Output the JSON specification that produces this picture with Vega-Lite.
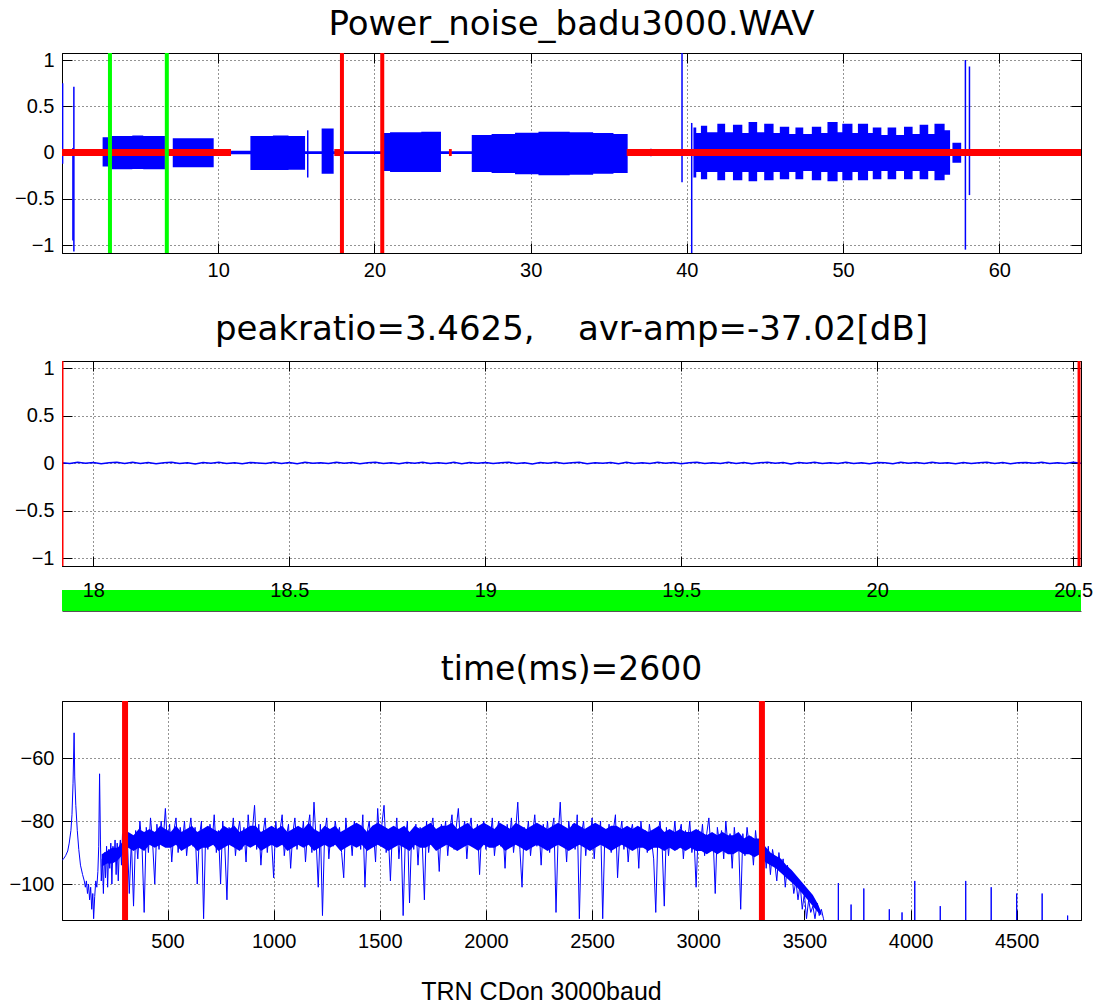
{
  "$schema": "https://vega.github.io/schema/vega-lite/v6.json",
  "background": "white",
  "padding": {"left": 8, "top": 7, "right": 0, "bottom": 0},
  "spacing": 11,
  "config": {
    "view": {"stroke": "#000", "strokeWidth": 1},
    "axis": {
      "labelFont": "Liberation Sans", "labelFontSize": 20, "labelColor": "#000",
      "domainColor": "#000", "domainWidth": 1, "tickColor": "#000", "tickSize": -10, "tickWidth": 1,
      "gridColor": "#000", "gridDash": [1, 3], "gridWidth": 1, "gridOpacity": 0.85,
      "labelFlush": false, "labelOverlap": false, "labelBound": false, "labelPadding": 20,
      "labelExpr": "format(datum.value, '~g')"
    },
    "axisY": {"labelPadding": 18},
    "title": {"font": "DejaVu Sans", "fontSize": 33, "fontWeight": "normal", "color": "#000", "anchor": "middle"}
  },
  "datasets": {
    "wave": [
      {"t": 0, "hi": 0.012, "lo": -0.012},
      {"t": 2.6, "hi": 0.164, "lo": -0.15},
      {"t": 3.2, "hi": 0.178, "lo": -0.182},
      {"t": 4.5, "hi": 0.183, "lo": -0.178},
      {"t": 5.2, "hi": 0.178, "lo": -0.182},
      {"t": 6.59, "hi": 0.012, "lo": -0.012},
      {"t": 7.09, "hi": 0.154, "lo": -0.16},
      {"t": 9.71, "hi": 0.012, "lo": -0.012},
      {"t": 10.82, "hi": 0.018, "lo": -0.018},
      {"t": 12.06, "hi": 0.178, "lo": -0.19},
      {"t": 13.5, "hi": 0.185, "lo": -0.19},
      {"t": 14.5, "hi": 0.178, "lo": -0.185},
      {"t": 15.56, "hi": 0.015, "lo": -0.015},
      {"t": 16.62, "hi": 0.26, "lo": -0.23},
      {"t": 17.39, "hi": 0.015, "lo": -0.015},
      {"t": 20.59, "hi": 0.21, "lo": -0.2},
      {"t": 21.0, "hi": 0.22, "lo": -0.21},
      {"t": 23.0, "hi": 0.225, "lo": -0.21},
      {"t": 24.26, "hi": 0.015, "lo": -0.015},
      {"t": 26.23, "hi": 0.19, "lo": -0.21},
      {"t": 27.5, "hi": 0.2, "lo": -0.22},
      {"t": 29.0, "hi": 0.215, "lo": -0.235},
      {"t": 30.5, "hi": 0.225, "lo": -0.245},
      {"t": 32.5, "hi": 0.22, "lo": -0.24},
      {"t": 34.0, "hi": 0.21, "lo": -0.23},
      {"t": 35.3, "hi": 0.2, "lo": -0.22},
      {"t": 36.21, "hi": 0.012, "lo": -0.012},
      {"t": 40.42, "hi": 0.27, "lo": -0.27},
      {"t": 40.6, "hi": 0.21, "lo": -0.21},
      {"t": 40.9, "hi": 0.29, "lo": -0.29},
      {"t": 41.3, "hi": 0.22, "lo": -0.21},
      {"t": 41.95, "hi": 0.31, "lo": -0.3},
      {"t": 42.45, "hi": 0.22, "lo": -0.21},
      {"t": 42.95, "hi": 0.3, "lo": -0.3},
      {"t": 43.55, "hi": 0.21, "lo": -0.21},
      {"t": 43.95, "hi": 0.33, "lo": -0.31},
      {"t": 44.5, "hi": 0.22, "lo": -0.21},
      {"t": 44.95, "hi": 0.31, "lo": -0.3},
      {"t": 45.55, "hi": 0.21, "lo": -0.21},
      {"t": 45.95, "hi": 0.28, "lo": -0.29},
      {"t": 46.55, "hi": 0.2, "lo": -0.21},
      {"t": 46.95, "hi": 0.27, "lo": -0.29},
      {"t": 47.45, "hi": 0.2, "lo": -0.2},
      {"t": 48.0, "hi": 0.28, "lo": -0.3},
      {"t": 48.6, "hi": 0.21, "lo": -0.21},
      {"t": 49.0, "hi": 0.33, "lo": -0.31},
      {"t": 49.65, "hi": 0.22, "lo": -0.21},
      {"t": 49.95, "hi": 0.31, "lo": -0.3},
      {"t": 50.6, "hi": 0.21, "lo": -0.21},
      {"t": 50.95, "hi": 0.31, "lo": -0.3},
      {"t": 51.6, "hi": 0.21, "lo": -0.2},
      {"t": 51.9, "hi": 0.27, "lo": -0.29},
      {"t": 52.45, "hi": 0.19, "lo": -0.2},
      {"t": 52.85, "hi": 0.27, "lo": -0.29},
      {"t": 53.4, "hi": 0.19, "lo": -0.2},
      {"t": 53.9, "hi": 0.28, "lo": -0.29},
      {"t": 54.45, "hi": 0.2, "lo": -0.2},
      {"t": 54.9, "hi": 0.3, "lo": -0.29},
      {"t": 55.45, "hi": 0.2, "lo": -0.2},
      {"t": 55.85, "hi": 0.31, "lo": -0.3},
      {"t": 56.5, "hi": 0.24, "lo": -0.24},
      {"t": 56.85, "hi": 0.012, "lo": -0.012},
      {"t": 57.0, "hi": 0.105, "lo": -0.11},
      {"t": 57.56, "hi": 0.012, "lo": -0.012},
      {"t": 65.23, "hi": 0.012, "lo": -0.012}
    ],
    "spikes": [
      {"t": 0.04, "top": 0.75, "bot": -0.12},
      {"t": 0.7, "top": 0.05, "bot": -0.95},
      {"t": 0.76, "top": 0.71, "bot": -1.07},
      {"t": 15.73, "top": 0.24, "bot": -0.27},
      {"t": 37.7, "top": 0.04, "bot": -0.04},
      {"t": 38.8, "top": 0.03, "bot": -0.03},
      {"t": 39.69, "top": 1.076, "bot": -0.32},
      {"t": 40.31, "top": 0.32, "bot": -1.086},
      {"t": 57.83, "top": 1.0, "bot": -1.05},
      {"t": 58.09, "top": 0.93, "bot": -0.46}
    ],
    "quiet": [
      {"t0": 0, "t1": 10.82},
      {"t0": 17.43, "t1": 17.97},
      {"t0": 24.77, "t1": 24.95},
      {"t0": 36.15, "t1": 65.23}
    ],
    "marks1": [
      {"t": 3.07, "kind": "window"},
      {"t": 6.71, "kind": "window"},
      {"t": 17.92, "kind": "segment"},
      {"t": 20.5, "kind": "segment"}
    ],
    "noise": [
      {"t": 17.92, "v": 0.004}, {"t": 17.94, "v": -0.006}, {"t": 17.96, "v": 0.008}, {"t": 17.98, "v": -0.003}, {"t": 18.0, "v": 0.006},
      {"t": 18.02, "v": -0.008}, {"t": 18.04, "v": 0.002}, {"t": 18.06, "v": 0.007}, {"t": 18.08, "v": -0.005}, {"t": 18.1, "v": 0.009},
      {"t": 18.12, "v": -0.004}, {"t": 18.14, "v": 0.005}, {"t": 18.16, "v": -0.007}, {"t": 18.18, "v": 0.003}, {"t": 18.2, "v": 0.008},
      {"t": 18.22, "v": -0.006}, {"t": 18.24, "v": 0.004}, {"t": 18.26, "v": -0.009}, {"t": 18.28, "v": 0.006}, {"t": 18.3, "v": -0.002},
      {"t": 18.32, "v": 0.007}, {"t": 18.34, "v": -0.005}, {"t": 18.36, "v": 0.003}, {"t": 18.38, "v": -0.008}, {"t": 18.4, "v": 0.006},
      {"t": 18.42, "v": 0.001}, {"t": 18.44, "v": -0.006}, {"t": 18.46, "v": 0.008}, {"t": 18.48, "v": -0.004}, {"t": 18.5, "v": 0.005},
      {"t": 18.52, "v": -0.007}, {"t": 18.54, "v": 0.009}, {"t": 18.56, "v": -0.003}, {"t": 18.58, "v": 0.004}, {"t": 18.6, "v": -0.006},
      {"t": 18.62, "v": 0.007}, {"t": 18.64, "v": -0.002}, {"t": 18.66, "v": 0.006}, {"t": 18.68, "v": -0.008}, {"t": 18.7, "v": 0.003},
      {"t": 18.72, "v": 0.008}, {"t": 18.74, "v": -0.005}, {"t": 18.76, "v": 0.004}, {"t": 18.78, "v": -0.007}, {"t": 18.8, "v": 0.006},
      {"t": 18.82, "v": -0.003}, {"t": 18.84, "v": 0.009}, {"t": 18.86, "v": -0.006}, {"t": 18.88, "v": 0.002}, {"t": 18.9, "v": -0.004},
      {"t": 18.92, "v": 0.007}, {"t": 18.94, "v": -0.008}, {"t": 18.96, "v": 0.005}, {"t": 18.98, "v": -0.002}, {"t": 19.0, "v": 0.006},
      {"t": 19.02, "v": -0.006}, {"t": 19.04, "v": 0.003}, {"t": 19.06, "v": 0.008}, {"t": 19.08, "v": -0.005}, {"t": 19.1, "v": 0.004},
      {"t": 19.12, "v": -0.009}, {"t": 19.14, "v": 0.006}, {"t": 19.16, "v": -0.003}, {"t": 19.18, "v": 0.007}, {"t": 19.2, "v": -0.005},
      {"t": 19.22, "v": 0.002}, {"t": 19.24, "v": 0.008}, {"t": 19.26, "v": -0.007}, {"t": 19.28, "v": 0.004}, {"t": 19.3, "v": -0.003},
      {"t": 19.32, "v": 0.006}, {"t": 19.34, "v": -0.008}, {"t": 19.36, "v": 0.009}, {"t": 19.38, "v": -0.004}, {"t": 19.4, "v": 0.003},
      {"t": 19.42, "v": -0.006}, {"t": 19.44, "v": 0.007}, {"t": 19.46, "v": -0.002}, {"t": 19.48, "v": 0.005}, {"t": 19.5, "v": -0.007},
      {"t": 19.52, "v": 0.004}, {"t": 19.54, "v": 0.008}, {"t": 19.56, "v": -0.006}, {"t": 19.58, "v": 0.003}, {"t": 19.6, "v": -0.005},
      {"t": 19.62, "v": 0.009}, {"t": 19.64, "v": -0.004}, {"t": 19.66, "v": 0.006}, {"t": 19.68, "v": -0.008}, {"t": 19.7, "v": 0.002},
      {"t": 19.72, "v": 0.007}, {"t": 19.74, "v": -0.003}, {"t": 19.76, "v": 0.005}, {"t": 19.78, "v": -0.009}, {"t": 19.8, "v": 0.006},
      {"t": 19.82, "v": -0.002}, {"t": 19.84, "v": 0.008}, {"t": 19.86, "v": -0.006}, {"t": 19.88, "v": 0.003}, {"t": 19.9, "v": -0.005},
      {"t": 19.92, "v": 0.007}, {"t": 19.94, "v": -0.004}, {"t": 19.96, "v": 0.002}, {"t": 19.98, "v": -0.008}, {"t": 20.0, "v": 0.006},
      {"t": 20.02, "v": 0.004}, {"t": 20.04, "v": -0.007}, {"t": 20.06, "v": 0.009}, {"t": 20.08, "v": -0.003}, {"t": 20.1, "v": 0.005},
      {"t": 20.12, "v": -0.006}, {"t": 20.14, "v": 0.007}, {"t": 20.16, "v": -0.002}, {"t": 20.18, "v": 0.004}, {"t": 20.2, "v": -0.008},
      {"t": 20.22, "v": 0.006}, {"t": 20.24, "v": -0.005}, {"t": 20.26, "v": 0.003}, {"t": 20.28, "v": 0.008}, {"t": 20.3, "v": -0.004},
      {"t": 20.32, "v": 0.005}, {"t": 20.34, "v": -0.007}, {"t": 20.36, "v": 0.002}, {"t": 20.38, "v": 0.006}, {"t": 20.4, "v": -0.003},
      {"t": 20.42, "v": 0.008}, {"t": 20.44, "v": -0.006}, {"t": 20.46, "v": 0.004}, {"t": 20.48, "v": -0.005}, {"t": 20.5, "v": 0.007},
      {"t": 20.52, "v": -0.002}
    ],
    "marks2": [{"t": 17.92}, {"t": 20.515}],
    "span": [{"t0": 17.92, "t1": 20.52}],
    "marks3": [{"f": 300}, {"f": 3300}],
    "core": [
      {"f": 190, "lo": -94.5, "hi": -90.5}, {"f": 215, "lo": -93.5, "hi": -89.5}, {"f": 240, "lo": -93.5, "hi": -88.5}, {"f": 265, "lo": -92.5, "hi": -88.5},
      {"f": 290, "lo": -90.5, "hi": -86.5}, {"f": 315, "lo": -88.5, "hi": -83.5}, {"f": 340, "lo": -89.5, "hi": -84.5}, {"f": 365, "lo": -88.5, "hi": -82.5},
      {"f": 390, "lo": -89.5, "hi": -83.5}, {"f": 415, "lo": -87.5, "hi": -82.5}, {"f": 440, "lo": -88.5, "hi": -83.5}, {"f": 465, "lo": -87.5, "hi": -81.5},
      {"f": 490, "lo": -88.5, "hi": -82.5}, {"f": 515, "lo": -88.5, "hi": -83.5}, {"f": 540, "lo": -87.5, "hi": -81.5}, {"f": 565, "lo": -89.5, "hi": -83.5},
      {"f": 590, "lo": -88.5, "hi": -82.5}, {"f": 615, "lo": -87.5, "hi": -81.5}, {"f": 640, "lo": -89.5, "hi": -83.5}, {"f": 665, "lo": -88.5, "hi": -82.5},
      {"f": 690, "lo": -88.5, "hi": -81.5}, {"f": 715, "lo": -87.5, "hi": -82.5}, {"f": 740, "lo": -89.5, "hi": -83.5}, {"f": 765, "lo": -88.5, "hi": -81.5},
      {"f": 790, "lo": -87.5, "hi": -82.5}, {"f": 815, "lo": -88.5, "hi": -81.5}, {"f": 840, "lo": -89.5, "hi": -83.5}, {"f": 865, "lo": -87.5, "hi": -82.5},
      {"f": 890, "lo": -88.5, "hi": -81.5}, {"f": 915, "lo": -87.5, "hi": -81.5}, {"f": 940, "lo": -89.5, "hi": -83.5}, {"f": 965, "lo": -88.5, "hi": -82.5},
      {"f": 990, "lo": -87.5, "hi": -81.5}, {"f": 1015, "lo": -88.5, "hi": -82.5}, {"f": 1040, "lo": -87.5, "hi": -81.5}, {"f": 1065, "lo": -89.5, "hi": -83.5},
      {"f": 1090, "lo": -88.5, "hi": -82.5}, {"f": 1115, "lo": -87.5, "hi": -81.5}, {"f": 1140, "lo": -88.5, "hi": -82.5}, {"f": 1165, "lo": -87.5, "hi": -80.5},
      {"f": 1190, "lo": -89.5, "hi": -82.5}, {"f": 1215, "lo": -88.5, "hi": -83.5}, {"f": 1240, "lo": -87.5, "hi": -81.5}, {"f": 1265, "lo": -88.5, "hi": -82.5},
      {"f": 1290, "lo": -87.5, "hi": -81.5}, {"f": 1315, "lo": -89.5, "hi": -83.5}, {"f": 1340, "lo": -88.5, "hi": -82.5}, {"f": 1365, "lo": -87.5, "hi": -81.5},
      {"f": 1390, "lo": -88.5, "hi": -80.5}, {"f": 1415, "lo": -87.5, "hi": -81.5}, {"f": 1440, "lo": -89.5, "hi": -83.5}, {"f": 1465, "lo": -88.5, "hi": -81.5},
      {"f": 1490, "lo": -87.5, "hi": -80.5}, {"f": 1515, "lo": -88.5, "hi": -81.5}, {"f": 1540, "lo": -89.5, "hi": -82.5}, {"f": 1565, "lo": -88.5, "hi": -81.5},
      {"f": 1590, "lo": -87.5, "hi": -82.5}, {"f": 1615, "lo": -88.5, "hi": -81.5}, {"f": 1640, "lo": -89.5, "hi": -83.5}, {"f": 1665, "lo": -87.5, "hi": -81.5},
      {"f": 1690, "lo": -88.5, "hi": -82.5}, {"f": 1715, "lo": -88.5, "hi": -81.5}, {"f": 1740, "lo": -87.5, "hi": -80.5}, {"f": 1765, "lo": -89.5, "hi": -82.5},
      {"f": 1790, "lo": -88.5, "hi": -81.5}, {"f": 1815, "lo": -87.5, "hi": -81.5}, {"f": 1840, "lo": -88.5, "hi": -80.5}, {"f": 1865, "lo": -89.5, "hi": -82.5},
      {"f": 1890, "lo": -88.5, "hi": -81.5}, {"f": 1915, "lo": -87.5, "hi": -80.5}, {"f": 1940, "lo": -88.5, "hi": -82.5}, {"f": 1965, "lo": -89.5, "hi": -81.5},
      {"f": 1990, "lo": -87.5, "hi": -80.5}, {"f": 2015, "lo": -88.5, "hi": -81.5}, {"f": 2040, "lo": -88.5, "hi": -82.5}, {"f": 2065, "lo": -87.5, "hi": -80.5},
      {"f": 2090, "lo": -89.5, "hi": -81.5}, {"f": 2115, "lo": -88.5, "hi": -82.5}, {"f": 2140, "lo": -87.5, "hi": -80.5}, {"f": 2165, "lo": -88.5, "hi": -81.5},
      {"f": 2190, "lo": -89.5, "hi": -82.5}, {"f": 2215, "lo": -88.5, "hi": -81.5}, {"f": 2240, "lo": -87.5, "hi": -80.5}, {"f": 2265, "lo": -88.5, "hi": -81.5},
      {"f": 2290, "lo": -89.5, "hi": -82.5}, {"f": 2315, "lo": -88.5, "hi": -81.5}, {"f": 2340, "lo": -87.5, "hi": -80.5}, {"f": 2365, "lo": -88.5, "hi": -81.5},
      {"f": 2390, "lo": -89.5, "hi": -82.5}, {"f": 2415, "lo": -88.5, "hi": -80.5}, {"f": 2440, "lo": -87.5, "hi": -81.5}, {"f": 2465, "lo": -88.5, "hi": -82.5},
      {"f": 2490, "lo": -89.5, "hi": -81.5}, {"f": 2515, "lo": -88.5, "hi": -80.5}, {"f": 2540, "lo": -87.5, "hi": -81.5}, {"f": 2565, "lo": -88.5, "hi": -82.5},
      {"f": 2590, "lo": -89.5, "hi": -81.5}, {"f": 2615, "lo": -88.5, "hi": -81.5}, {"f": 2640, "lo": -87.5, "hi": -82.5}, {"f": 2665, "lo": -88.5, "hi": -81.5},
      {"f": 2690, "lo": -89.5, "hi": -82.5}, {"f": 2715, "lo": -88.5, "hi": -81.5}, {"f": 2740, "lo": -88.5, "hi": -82.5}, {"f": 2765, "lo": -89.5, "hi": -83.5},
      {"f": 2790, "lo": -88.5, "hi": -82.5}, {"f": 2815, "lo": -88.5, "hi": -81.5}, {"f": 2840, "lo": -89.5, "hi": -83.5}, {"f": 2865, "lo": -88.5, "hi": -82.5},
      {"f": 2890, "lo": -89.5, "hi": -83.5}, {"f": 2915, "lo": -88.5, "hi": -82.5}, {"f": 2940, "lo": -89.5, "hi": -83.5}, {"f": 2965, "lo": -88.5, "hi": -83.5},
      {"f": 2990, "lo": -89.5, "hi": -82.5}, {"f": 3015, "lo": -89.5, "hi": -83.5}, {"f": 3040, "lo": -90.5, "hi": -84.5}, {"f": 3065, "lo": -89.5, "hi": -83.5},
      {"f": 3090, "lo": -90.5, "hi": -84.5}, {"f": 3115, "lo": -89.5, "hi": -83.5}, {"f": 3140, "lo": -90.5, "hi": -84.5}, {"f": 3165, "lo": -90.5, "hi": -84.5},
      {"f": 3190, "lo": -89.5, "hi": -83.5}, {"f": 3215, "lo": -90.5, "hi": -85.5}, {"f": 3240, "lo": -90.5, "hi": -84.5}, {"f": 3265, "lo": -91.5, "hi": -85.5},
      {"f": 3290, "lo": -90.5, "hi": -85.5}, {"f": 3315, "lo": -93, "hi": -88}, {"f": 3340, "lo": -94, "hi": -90}, {"f": 3365, "lo": -95, "hi": -91},
      {"f": 3390, "lo": -96.5, "hi": -92}, {"f": 3415, "lo": -98, "hi": -94}, {"f": 3440, "lo": -99.5, "hi": -95.5}, {"f": 3465, "lo": -101, "hi": -97.5},
      {"f": 3490, "lo": -103, "hi": -99.5}, {"f": 3515, "lo": -105, "hi": -101.5}, {"f": 3540, "lo": -107, "hi": -103.5}, {"f": 3565, "lo": -109, "hi": -106.5},
      {"f": 3580, "lo": -110, "hi": -109}
    ],
    "spectrum": [
      {"f": 3, "d": -92.5}, {"f": 10, "d": -92}, {"f": 20, "d": -91}, {"f": 30, "d": -89.5}, {"f": 37, "d": -87},
      {"f": 45, "d": -83}, {"f": 50, "d": -78}, {"f": 55, "d": -68}, {"f": 60, "d": -52}, {"f": 63, "d": -66},
      {"f": 68, "d": -75}, {"f": 75, "d": -83}, {"f": 82, "d": -89}, {"f": 90, "d": -94}, {"f": 100, "d": -97},
      {"f": 108, "d": -99}, {"f": 113, "d": -101}, {"f": 118, "d": -99}, {"f": 123, "d": -103}, {"f": 128, "d": -100},
      {"f": 133, "d": -105}, {"f": 138, "d": -101}, {"f": 143, "d": -108}, {"f": 148, "d": -103}, {"f": 152, "d": -111},
      {"f": 157, "d": -104}, {"f": 162, "d": -99}, {"f": 167, "d": -101}, {"f": 172, "d": -96}, {"f": 176, "d": -88},
      {"f": 180, "d": -65}, {"f": 184, "d": -86}, {"f": 188, "d": -99}, {"f": 193, "d": -92}, {"f": 198, "d": -103},
      {"f": 203, "d": -90}, {"f": 208, "d": -98}, {"f": 213, "d": -88}, {"f": 218, "d": -101}, {"f": 223, "d": -89},
      {"f": 228, "d": -95}, {"f": 233, "d": -87}, {"f": 238, "d": -100}, {"f": 243, "d": -88}, {"f": 248, "d": -93},
      {"f": 253, "d": -86}, {"f": 258, "d": -97}, {"f": 263, "d": -87}, {"f": 268, "d": -99}, {"f": 273, "d": -89},
      {"f": 278, "d": -86}, {"f": 283, "d": -94}, {"f": 288, "d": -84}, {"f": 293, "d": -90},
      {"f": 300, "d": -90}, {"f": 310, "d": -84}, {"f": 320, "d": -103}, {"f": 330, "d": -86}, {"f": 340, "d": -107}, {"f": 350, "d": -83}, {"f": 360, "d": -92}, {"f": 370, "d": -80}, {"f": 380, "d": -88}, {"f": 390, "d": -109},
      {"f": 400, "d": -82}, {"f": 410, "d": -90}, {"f": 420, "d": -79}, {"f": 430, "d": -87}, {"f": 440, "d": -100}, {"f": 450, "d": -81}, {"f": 460, "d": -89}, {"f": 470, "d": -80}, {"f": 480, "d": -86}, {"f": 490, "d": -76},
      {"f": 500, "d": -88}, {"f": 510, "d": -81}, {"f": 520, "d": -93}, {"f": 530, "d": -83}, {"f": 540, "d": -79}, {"f": 550, "d": -90}, {"f": 560, "d": -82}, {"f": 570, "d": -87}, {"f": 580, "d": -80}, {"f": 590, "d": -91},
      {"f": 600, "d": -84}, {"f": 610, "d": -79}, {"f": 620, "d": -88}, {"f": 630, "d": -82}, {"f": 640, "d": -100}, {"f": 650, "d": -85}, {"f": 660, "d": -80}, {"f": 670, "d": -111}, {"f": 680, "d": -83}, {"f": 690, "d": -89},
      {"f": 700, "d": -81}, {"f": 710, "d": -87}, {"f": 720, "d": -78}, {"f": 730, "d": -90}, {"f": 740, "d": -83}, {"f": 750, "d": -100}, {"f": 760, "d": -80}, {"f": 770, "d": -88}, {"f": 780, "d": -105}, {"f": 790, "d": -82},
      {"f": 800, "d": -86}, {"f": 810, "d": -79}, {"f": 820, "d": -91}, {"f": 830, "d": -84}, {"f": 840, "d": -80}, {"f": 850, "d": -89}, {"f": 860, "d": -82}, {"f": 870, "d": -93}, {"f": 880, "d": -78}, {"f": 890, "d": -87},
      {"f": 900, "d": -83}, {"f": 910, "d": -75}, {"f": 920, "d": -89}, {"f": 930, "d": -81}, {"f": 940, "d": -94}, {"f": 950, "d": -84}, {"f": 960, "d": -79}, {"f": 970, "d": -90}, {"f": 980, "d": -82}, {"f": 990, "d": -86},
      {"f": 1000, "d": -98}, {"f": 1010, "d": -80}, {"f": 1020, "d": -88}, {"f": 1030, "d": -83}, {"f": 1040, "d": -78}, {"f": 1050, "d": -91}, {"f": 1060, "d": -85}, {"f": 1070, "d": -81}, {"f": 1080, "d": -95}, {"f": 1090, "d": -84},
      {"f": 1100, "d": -79}, {"f": 1110, "d": -89}, {"f": 1120, "d": -82}, {"f": 1130, "d": -87}, {"f": 1140, "d": -80}, {"f": 1150, "d": -93}, {"f": 1160, "d": -83}, {"f": 1170, "d": -78}, {"f": 1180, "d": -90}, {"f": 1190, "d": -74},
      {"f": 1200, "d": -86}, {"f": 1210, "d": -101}, {"f": 1220, "d": -81}, {"f": 1230, "d": -110}, {"f": 1240, "d": -84}, {"f": 1250, "d": -79}, {"f": 1260, "d": -92}, {"f": 1270, "d": -83}, {"f": 1280, "d": -88}, {"f": 1290, "d": -80},
      {"f": 1300, "d": -85}, {"f": 1310, "d": -82}, {"f": 1320, "d": -90}, {"f": 1330, "d": -98}, {"f": 1340, "d": -79}, {"f": 1350, "d": -87}, {"f": 1360, "d": -83}, {"f": 1370, "d": -91}, {"f": 1380, "d": -80}, {"f": 1390, "d": -86},
      {"f": 1400, "d": -82}, {"f": 1410, "d": -89}, {"f": 1420, "d": -78}, {"f": 1430, "d": -101}, {"f": 1440, "d": -84}, {"f": 1450, "d": -80}, {"f": 1460, "d": -88}, {"f": 1470, "d": -83}, {"f": 1480, "d": -93}, {"f": 1490, "d": -76},
      {"f": 1500, "d": -87}, {"f": 1510, "d": -81}, {"f": 1520, "d": -75}, {"f": 1530, "d": -90}, {"f": 1540, "d": -84}, {"f": 1550, "d": -99}, {"f": 1560, "d": -82}, {"f": 1570, "d": -88}, {"f": 1580, "d": -79}, {"f": 1590, "d": -92},
      {"f": 1600, "d": -83}, {"f": 1610, "d": -110}, {"f": 1620, "d": -86}, {"f": 1630, "d": -80}, {"f": 1640, "d": -106}, {"f": 1650, "d": -84}, {"f": 1660, "d": -89}, {"f": 1670, "d": -81}, {"f": 1680, "d": -94}, {"f": 1690, "d": -82},
      {"f": 1700, "d": -87}, {"f": 1710, "d": -105}, {"f": 1720, "d": -80}, {"f": 1730, "d": -90}, {"f": 1740, "d": -83}, {"f": 1750, "d": -79}, {"f": 1760, "d": -88}, {"f": 1770, "d": -84}, {"f": 1780, "d": -96}, {"f": 1790, "d": -81},
      {"f": 1800, "d": -86}, {"f": 1810, "d": -80}, {"f": 1820, "d": -91}, {"f": 1830, "d": -83}, {"f": 1840, "d": -78}, {"f": 1850, "d": -89}, {"f": 1860, "d": -82}, {"f": 1870, "d": -76}, {"f": 1880, "d": -87}, {"f": 1890, "d": -84},
      {"f": 1900, "d": -80}, {"f": 1910, "d": -92}, {"f": 1920, "d": -83}, {"f": 1930, "d": -79}, {"f": 1940, "d": -88}, {"f": 1950, "d": -85}, {"f": 1960, "d": -81}, {"f": 1970, "d": -97}, {"f": 1980, "d": -83}, {"f": 1990, "d": -80},
      {"f": 2000, "d": -89}, {"f": 2010, "d": -82}, {"f": 2020, "d": -86}, {"f": 2030, "d": -79}, {"f": 2040, "d": -91}, {"f": 2050, "d": -84}, {"f": 2060, "d": -80}, {"f": 2070, "d": -88}, {"f": 2080, "d": -83}, {"f": 2090, "d": -95},
      {"f": 2100, "d": -81}, {"f": 2110, "d": -87}, {"f": 2120, "d": -79}, {"f": 2130, "d": -90}, {"f": 2140, "d": -83}, {"f": 2150, "d": -74}, {"f": 2160, "d": -89}, {"f": 2170, "d": -101}, {"f": 2180, "d": -82}, {"f": 2190, "d": -86},
      {"f": 2200, "d": -80}, {"f": 2210, "d": -91}, {"f": 2220, "d": -84}, {"f": 2230, "d": -78}, {"f": 2240, "d": -88}, {"f": 2250, "d": -82}, {"f": 2260, "d": -94}, {"f": 2270, "d": -81}, {"f": 2280, "d": -87}, {"f": 2290, "d": -80},
      {"f": 2300, "d": -90}, {"f": 2310, "d": -83}, {"f": 2320, "d": -79}, {"f": 2330, "d": -109}, {"f": 2340, "d": -85}, {"f": 2350, "d": -74}, {"f": 2360, "d": -88}, {"f": 2370, "d": -82}, {"f": 2380, "d": -93}, {"f": 2390, "d": -80},
      {"f": 2400, "d": -86}, {"f": 2410, "d": -81}, {"f": 2420, "d": -89}, {"f": 2430, "d": -78}, {"f": 2440, "d": -111}, {"f": 2450, "d": -84}, {"f": 2460, "d": -80}, {"f": 2470, "d": -91}, {"f": 2480, "d": -83}, {"f": 2490, "d": -87},
      {"f": 2500, "d": -79}, {"f": 2510, "d": -92}, {"f": 2520, "d": -82}, {"f": 2530, "d": -86}, {"f": 2540, "d": -80}, {"f": 2550, "d": -111}, {"f": 2560, "d": -84}, {"f": 2570, "d": -88}, {"f": 2580, "d": -81}, {"f": 2590, "d": -90},
      {"f": 2600, "d": -83}, {"f": 2610, "d": -78}, {"f": 2620, "d": -98}, {"f": 2630, "d": -85}, {"f": 2640, "d": -80}, {"f": 2650, "d": -89}, {"f": 2660, "d": -82}, {"f": 2670, "d": -93}, {"f": 2680, "d": -84}, {"f": 2690, "d": -81},
      {"f": 2700, "d": -88}, {"f": 2710, "d": -82}, {"f": 2720, "d": -95}, {"f": 2730, "d": -80}, {"f": 2740, "d": -87}, {"f": 2750, "d": -83}, {"f": 2760, "d": -90}, {"f": 2770, "d": -81}, {"f": 2780, "d": -86}, {"f": 2790, "d": -92},
      {"f": 2800, "d": -109}, {"f": 2810, "d": -84}, {"f": 2820, "d": -80}, {"f": 2830, "d": -88}, {"f": 2840, "d": -107}, {"f": 2850, "d": -82}, {"f": 2860, "d": -91}, {"f": 2870, "d": -83}, {"f": 2880, "d": -87}, {"f": 2890, "d": -80},
      {"f": 2900, "d": -89}, {"f": 2910, "d": -84}, {"f": 2920, "d": -81}, {"f": 2930, "d": -92}, {"f": 2940, "d": -83}, {"f": 2950, "d": -87}, {"f": 2960, "d": -80}, {"f": 2970, "d": -90}, {"f": 2980, "d": -85}, {"f": 2990, "d": -101},
      {"f": 3000, "d": -83}, {"f": 3010, "d": -88}, {"f": 3020, "d": -81}, {"f": 3030, "d": -91}, {"f": 3040, "d": -84}, {"f": 3050, "d": -79}, {"f": 3060, "d": -89}, {"f": 3070, "d": -85}, {"f": 3080, "d": -103}, {"f": 3090, "d": -82},
      {"f": 3100, "d": -87}, {"f": 3110, "d": -83}, {"f": 3120, "d": -92}, {"f": 3130, "d": -80}, {"f": 3140, "d": -88}, {"f": 3150, "d": -84}, {"f": 3160, "d": -95}, {"f": 3170, "d": -82}, {"f": 3180, "d": -89}, {"f": 3190, "d": -86},
      {"f": 3200, "d": -108}, {"f": 3210, "d": -84}, {"f": 3220, "d": -91}, {"f": 3230, "d": -82}, {"f": 3240, "d": -88}, {"f": 3250, "d": -85}, {"f": 3260, "d": -94}, {"f": 3270, "d": -83}, {"f": 3280, "d": -90}, {"f": 3290, "d": -86},
      {"f": 3300, "d": -92}, {"f": 3310, "d": -86}, {"f": 3320, "d": -95}, {"f": 3330, "d": -88}, {"f": 3340, "d": -97}, {"f": 3350, "d": -89}, {"f": 3360, "d": -93}, {"f": 3370, "d": -99}, {"f": 3380, "d": -90}, {"f": 3390, "d": -96},
      {"f": 3400, "d": -92}, {"f": 3410, "d": -101}, {"f": 3420, "d": -94}, {"f": 3430, "d": -98}, {"f": 3440, "d": -96}, {"f": 3450, "d": -103}, {"f": 3460, "d": -99}, {"f": 3470, "d": -105}, {"f": 3480, "d": -100}, {"f": 3490, "d": -108},
      {"f": 3500, "d": -103}, {"f": 3510, "d": -111}, {"f": 3520, "d": -105}, {"f": 3530, "d": -109}, {"f": 3540, "d": -107}, {"f": 3550, "d": -111}, {"f": 3560, "d": -106}, {"f": 3570, "d": -110}, {"f": 3580, "d": -108}, {"f": 3590, "d": -111},
      {"f": 3600, "d": -114}, {"f": 3610, "d": -125},
      {"f": 3659, "d": -125}, {"f": 3660, "d": -99.7}, {"f": 3661, "d": -125},
      {"f": 3719, "d": -125}, {"f": 3720, "d": -106.5}, {"f": 3721, "d": -125},
      {"f": 3779, "d": -125}, {"f": 3780, "d": -101.4}, {"f": 3781, "d": -125},
      {"f": 3899, "d": -125}, {"f": 3900, "d": -108}, {"f": 3901, "d": -125},
      {"f": 3959, "d": -125}, {"f": 3960, "d": -109}, {"f": 3961, "d": -125},
      {"f": 4019, "d": -125}, {"f": 4020, "d": -99}, {"f": 4021, "d": -125},
      {"f": 4139, "d": -125}, {"f": 4140, "d": -107}, {"f": 4141, "d": -125},
      {"f": 4259, "d": -125}, {"f": 4260, "d": -99}, {"f": 4261, "d": -125},
      {"f": 4379, "d": -125}, {"f": 4380, "d": -101}, {"f": 4381, "d": -125},
      {"f": 4499, "d": -125}, {"f": 4500, "d": -103}, {"f": 4501, "d": -125},
      {"f": 4619, "d": -125}, {"f": 4620, "d": -103}, {"f": 4621, "d": -125},
      {"f": 4739, "d": -125}, {"f": 4740, "d": -110}, {"f": 4741, "d": -125},
      {"f": 4803, "d": -125}
    ]
  },
  "vconcat": [
    {
      "width": 1019,
      "height": 200,
      "title": {"text": "Power_noise_badu3000.WAV", "offset": 8, "fontSize": 34},
      "layer": [
        {
          "data": {"name": "wave"},
          "mark": {"type": "area", "interpolate": "step-after", "color": "#0000ff", "clip": true},
          "encoding": {
            "x": {"field": "t", "type": "quantitative", "scale": {"domain": [0, 65.23], "nice": false, "zero": false},
                  "axis": {"values": [10, 20, 30, 40, 50, 60], "grid": true, "title": null, "labelPadding": 17, "minExtent": 47}},
            "y": {"field": "hi", "type": "quantitative", "scale": {"domain": [-1.086, 1.076], "nice": false, "zero": false},
                  "axis": {"values": [-1, -0.5, 0, 0.5, 1], "grid": true, "title": null}},
            "y2": {"field": "lo"}
          }
        },
        {
          "data": {"name": "spikes"},
          "mark": {"type": "rule", "color": "#0000ff", "strokeWidth": 1.5, "clip": true},
          "encoding": {
            "x": {"field": "t", "type": "quantitative", "scale": {"domain": [0, 65.23], "nice": false, "zero": false},
                  "axis": {"orient": "top", "values": [10, 20, 30, 40, 50, 60], "labels": false, "grid": false, "title": null}},
            "y": {"field": "top", "type": "quantitative", "scale": {"domain": [-1.086, 1.076], "nice": false, "zero": false},
                  "axis": {"orient": "right", "values": [-1, -0.5, 0, 0.5, 1], "labels": false, "grid": false, "title": null}},
            "y2": {"field": "bot"}
          }
        },
        {
          "data": {"name": "quiet"},
          "mark": {"type": "rule", "color": "#ff0000", "strokeWidth": 7, "clip": true},
          "encoding": {
            "x": {"field": "t0", "type": "quantitative", "scale": {"domain": [0, 65.23], "nice": false, "zero": false}, "axis": null},
            "x2": {"field": "t1"},
            "y": {"datum": 0, "type": "quantitative", "scale": {"domain": [-1.086, 1.076], "nice": false, "zero": false}, "axis": null}
          }
        },
        {
          "data": {"name": "marks1"},
          "mark": {"type": "rule", "strokeWidth": 4, "clip": true},
          "encoding": {
            "x": {"field": "t", "type": "quantitative", "scale": {"domain": [0, 65.23], "nice": false, "zero": false}, "axis": null},
            "color": {"field": "kind", "type": "nominal", "scale": {"domain": ["window", "segment"], "range": ["#00ff00", "#ff0000"]}, "legend": null}
          }
        }
      ],
      "resolve": {"axis": {"x": "independent", "y": "independent"}}
    },
    {
      "width": 1019,
      "height": 205,
      "title": {"text": "peakratio=3.4625,\u00a0\u00a0\u00a0\u00a0avr-amp=-37.02[dB]", "offset": 11, "fontSize": 34},
      "layer": [
        {
          "data": {"name": "noise"},
          "mark": {"type": "line", "color": "#0000ff", "strokeWidth": 1.5, "clip": true},
          "encoding": {
            "x": {"field": "t", "type": "quantitative", "scale": {"domain": [17.92, 20.52], "nice": false, "zero": false},
                  "axis": {"values": [18, 18.5, 19, 19.5, 20, 20.5], "labels": false, "grid": true, "title": null, "minExtent": 0}},
            "y": {"field": "v", "type": "quantitative", "scale": {"domain": [-1.084, 1.074], "nice": false, "zero": false},
                  "axis": {"values": [-1, -0.5, 0, 0.5, 1], "grid": true, "title": null}}
          }
        },
        {
          "data": {"name": "marks2"},
          "mark": {"type": "rule", "color": "#ff0000", "strokeWidth": 3, "clip": true},
          "encoding": {
            "x": {"field": "t", "type": "quantitative", "scale": {"domain": [17.92, 20.52], "nice": false, "zero": false},
                  "axis": {"orient": "top", "values": [18, 18.5, 19, 19.5, 20, 20.5], "labels": false, "grid": false, "title": null}},
            "y": {"datum": -1.084, "type": "quantitative", "scale": {"domain": [-1.084, 1.074], "nice": false, "zero": false},
                  "axis": {"orient": "right", "values": [-1, -0.5, 0, 0.5, 1], "labels": false, "grid": false, "title": null}},
            "y2": {"datum": 1.074}
          }
        }
      ],
      "resolve": {"axis": {"x": "independent", "y": "independent"}}
    },
    {
      "width": 1019,
      "height": 21,
      "view": {"stroke": null},
      "data": {"name": "span"},
      "mark": {"type": "rect", "color": "#00ff00"},
      "encoding": {
        "x": {"field": "t0", "type": "quantitative", "scale": {"domain": [17.92, 20.52], "nice": false, "zero": false},
              "axis": {"values": [18, 18.5, 19, 19.5, 20, 20.5], "ticks": false, "grid": false, "domainColor": "#555",
                       "labelPadding": -31, "minExtent": 31, "zindex": 1, "title": null}},
        "x2": {"field": "t1"}
      }
    },
    {
      "width": 1019,
      "height": 219,
      "title": {"text": "time(ms)=2600", "offset": 14},
      "layer": [
        {
          "data": {"name": "core"},
          "mark": {"type": "area", "color": "#0000ff", "clip": true},
          "encoding": {
            "x": {"field": "f", "type": "quantitative", "scale": {"domain": [3, 4803], "nice": false, "zero": false},
                  "axis": {"values": [500, 1000, 1500, 2000, 2500, 3000, 3500, 4000, 4500], "grid": true, "labelPadding": 21,
                           "title": "TRN CDon 3000baud", "titleFont": "Liberation Sans", "titleFontSize": 25, "titleFontWeight": "normal",
                           "titleColor": "#000", "titlePadding": 28, "titleX": 479}},
            "y": {"field": "hi", "type": "quantitative", "scale": {"domain": [-111.4, -41.9], "nice": false, "zero": false},
                  "axis": {"values": [-100, -80, -60], "grid": true, "title": null}},
            "y2": {"field": "lo"}
          }
        },
        {
          "data": {"name": "spectrum"},
          "mark": {"type": "line", "color": "#0000ff", "strokeWidth": 1, "clip": true},
          "encoding": {
            "x": {"field": "f", "type": "quantitative", "scale": {"domain": [3, 4803], "nice": false, "zero": false}, "axis": null},
            "y": {"field": "d", "type": "quantitative", "scale": {"domain": [-111.4, -41.9], "nice": false, "zero": false}, "axis": null}
          }
        },
        {
          "data": {"name": "marks3"},
          "mark": {"type": "rule", "color": "#ff0000", "strokeWidth": 6, "clip": true},
          "encoding": {
            "x": {"field": "f", "type": "quantitative", "scale": {"domain": [3, 4803], "nice": false, "zero": false},
                  "axis": {"orient": "top", "values": [500, 1000, 1500, 2000, 2500, 3000, 3500, 4000, 4500], "labels": false, "grid": false, "title": null}},
            "y": {"datum": -111.4, "type": "quantitative", "scale": {"domain": [-111.4, -41.9], "nice": false, "zero": false},
                  "axis": {"orient": "right", "values": [-100, -80, -60], "labels": false, "grid": false, "title": null}},
            "y2": {"datum": -41.9}
          }
        }
      ],
      "resolve": {"axis": {"x": "independent", "y": "independent"}}
    }
  ]
}
